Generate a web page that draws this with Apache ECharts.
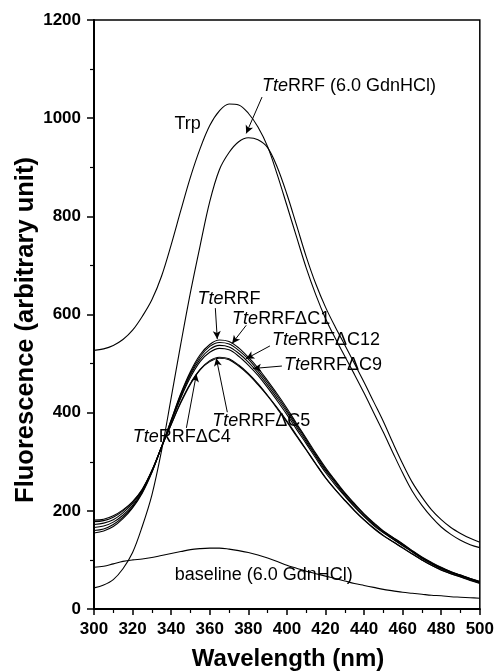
<!DOCTYPE html>
<html>
<head>
<meta charset="utf-8">
<script src="https://cdn.jsdelivr.net/npm/echarts@6/dist/echarts.min.js"></script>
<style>
html,body{margin:0;padding:0;background:#fff;}
#chart{width:497px;height:672px;}
</style>
</head>
<body>
<div id="chart"></div>
<script>
const wavelengths = [300,305,310,315,320,325,330,335,340,345,350,355,360,365,370,375,380,385,390,395,400,405,410,415,420,425,430,435,440,445,450,455,460,465,470,475,480,485,490,495,500];
const trp      = [527,530,537,549,568,596,630,678,742,812,880,938,985,1015,1029,1027,1010,982,942,885,822,758,695,640,592,552,515,478,440,400,360,318,277,240,211,187,167,152,140,131,125];
const gdnRRF   = [43,49,60,82,115,168,232,322,430,540,645,740,830,895,930,952,960,956,940,900,845,782,718,662,615,575,538,500,462,422,382,338,296,258,228,202,182,166,154,144,136];
const baseline = [85,87,92,97,100,102,105,109,113,117,121,123,124,124,122,119,115,110,104,97,89,83,77,72,67,62,57,52,48,44,40,37,34,32,30,28,27,25,24,23,22];
const rrf      = [155,159,168,184,206,236,278,330,385,439,484,518,539,548,545,532,513,491,465,438,409,378,348,317,288,262,237,215,194,176,159,146,133,119,106,95,85,76,69,62,56];
const rrfC1    = [160,163,172,187,208,238,279,330,384,437,481,514,535,543,540,527,509,486,461,434,405,375,345,314,285,260,235,213,193,174,158,145,132,118,105,94,84,76,69,62,56];
const rrfC12   = [166,169,177,191,211,240,280,330,382,433,477,509,529,537,534,521,503,481,456,429,401,371,341,311,282,257,232,210,190,172,156,143,130,117,104,93,83,75,68,61,55];
const rrfC9    = [172,175,182,196,215,242,281,330,381,430,472,504,523,531,528,515,497,476,451,424,396,366,337,307,278,253,230,208,188,170,155,142,129,116,103,92,82,74,68,61,54];
const rrfC5    = [178,180,187,200,218,243,282,330,376,422,460,488,506,513,510,497,480,459,435,410,383,354,325,296,268,244,222,201,182,165,150,137,125,112,100,89,80,72,66,59,53];
const rrfC4    = [181,183,190,202,219,244,282,330,376,420,458,487,504,511,508,495,478,457,434,408,381,352,324,295,267,243,221,200,181,164,149,137,124,112,100,89,79,72,65,58,52];

const xTicks = {min:300, max:500, step:20};
const yTicks = {min:0, max:1200, step:200};

// label texts with anchor (data coords) and arrow (data coords: from -> to)
const labels = [
  {text:'Trp', at:[348.5, 988], align:'center'},
  {text:'{i|Tte}RRF (6.0 GdnHCl)', at:[387.1, 1065], align:'left'},
  {text:'{i|Tte}RRF', at:[353.6, 631], align:'left'},
  {text:'{i|Tte}RRFΔC1', at:[371.6, 591], align:'left'},
  {text:'{i|Tte}RRFΔC12', at:[392.3, 548], align:'left'},
  {text:'{i|Tte}RRFΔC9', at:[398.5, 497], align:'left'},
  {text:'{i|Tte}RRFΔC5', at:[361.3, 383], align:'left'},
  {text:'{i|Tte}RRFΔC4', at:[320.1, 350], align:'left'},
  {text:'baseline (6.0 GdnHCl)', at:[341.8, 69], align:'left'}
];
const arrows = [
  [[387.1, 1043], [378.9, 969]],
  [[362.9, 613], [363.9, 550]],
  [[378.9, 578], [371.6, 541]],
  [[391.2, 536], [378.9, 510]],
  [[397.4, 495], [382.5, 490]],
  [[369.1, 401], [363.4, 511]],
  [[347.9, 369], [353.1, 479]]
];

const FONT = '"Liberation Sans", Arial, Helvetica, sans-serif';
const pairs = arr => wavelengths.map((w,i)=>[w, arr[i]]);
const curves = [trp, gdnRRF, baseline, rrf, rrfC1, rrfC12, rrfC9, rrfC5, rrfC4];

const chart = echarts.init(document.getElementById('chart'), null, {renderer:'canvas'});
const series = curves.map(c => ({
  type:'line', data:pairs(c), showSymbol:false, smooth:0.35, silent:true,
  lineStyle:{color:'#000', width:1.1}, emphasis:{disabled:true}
}));
series.push({
  type:'line', data:[], silent:true,
  markLine:{
    silent:true, symbol:['none','arrow'], symbolSize:[6,8], animation:false,
    label:{show:false}, emphasis:{disabled:true},
    lineStyle:{color:'#000', width:1, type:'solid'},
    data: arrows.map(a => [{coord:a[0]}, {coord:a[1]}])
  }
});

chart.setOption({
  animation:false,
  backgroundColor:'#fff',
  grid:{left:94, right:15, top:20, bottom:63, show:true, borderColor:'#000', borderWidth:1.5},
  xAxis:{
    type:'value', min:xTicks.min, max:xTicks.max, interval:xTicks.step,
    axisLine:{show:true, onZero:false, lineStyle:{color:'#000', width:2}},
    axisTick:{show:true, inside:false, length:6, lineStyle:{color:'#000', width:1.5}},
    minorTick:{show:true, splitNumber:2, length:4, lineStyle:{color:'#000', width:1.2}},
    splitLine:{show:false},
    axisLabel:{color:'#000', fontFamily:FONT, fontWeight:'bold', fontSize:17, margin:12, formatter: v => String(v)}
  },
  yAxis:{
    type:'value', min:yTicks.min, max:yTicks.max, interval:yTicks.step,
    axisLine:{show:true, onZero:false, lineStyle:{color:'#000', width:2}},
    axisTick:{show:true, inside:false, length:7, lineStyle:{color:'#000', width:1.5}},
    minorTick:{show:true, splitNumber:2, length:4, lineStyle:{color:'#000', width:1.2}},
    splitLine:{show:false},
    axisLabel:{color:'#000', fontFamily:FONT, fontWeight:'bold', fontSize:17, margin:13, formatter: v => String(v)}
  },
  series: series
});

const gfx = labels.map(l => {
  const p = chart.convertToPixel({gridIndex:0}, l.at);
  return {
    type:'text', x:p[0], y:p[1], silent:true,
    style:{text:l.text, fill:'#000', fontSize:18, fontFamily:FONT,
      align:l.align, verticalAlign:'middle',
      rich:{i:{fontStyle:'italic', fontSize:18, fontFamily:FONT, fill:'#000'}}}
  };
});
gfx.push({type:'text', x:288, y:659, silent:true,
  style:{text:'Wavelength (nm)', fill:'#000', fontSize:24, fontWeight:'bold', fontFamily:FONT, align:'center', verticalAlign:'middle'}});
gfx.push({type:'text', x:26, y:330, rotation:Math.PI/2, silent:true,
  style:{text:'Fluorescence (arbitrary unit)', fill:'#000', fontSize:25.5, fontWeight:'bold', fontFamily:FONT, align:'center', verticalAlign:'middle'}});
chart.setOption({graphic:gfx});
</script>
</body>
</html>
